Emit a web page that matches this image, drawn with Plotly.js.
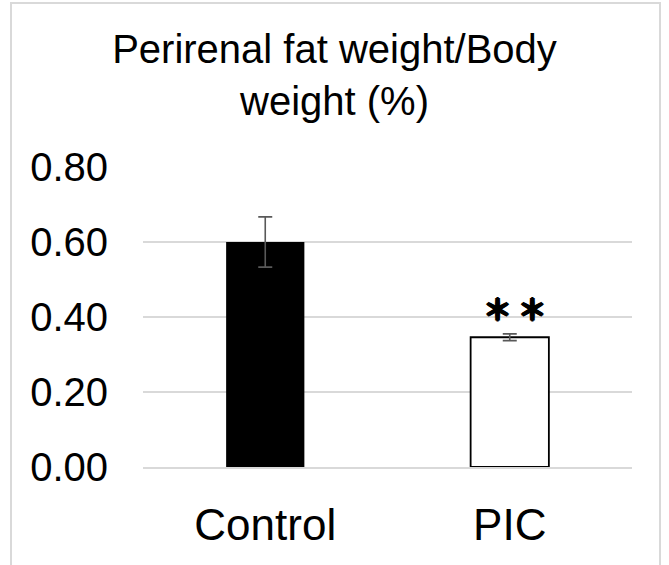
<!DOCTYPE html>
<html>
<head>
<meta charset="utf-8">
<script src="https://cdn.plot.ly/plotly-3.0.1.min.js"></script>
<style>
  html, body { margin: 0; padding: 0; background: #ffffff; }
  #wrap { position: relative; width: 669px; height: 565px; overflow: hidden; }
  #chart { position: absolute; left: 0; top: 0; width: 669px; height: 565px; }
  #frame { position: absolute; left: 10px; top: 2px; width: 651px; height: 700px;
           box-sizing: border-box; border: 2px solid #d9d9d9; pointer-events: none; }
</style>
</head>
<body>
<div id="wrap">
  <div id="chart"></div>
  <div id="frame"></div>
</div>
<script>
const categories = ['Control', 'PIC'];
const means = [0.60, 0.346];
const errors = [0.067, 0.009];
const barColors = ['#000000', '#ffffff'];
const barLineWidths = [0, 1.8];
const yTickVals = [0, 0.2, 0.4, 0.6, 0.8];
const yTickText = ['0.00', '0.20', '0.40', '0.60', '0.80'];
const sigLabel = '＊\u2009＊';

const trace = {
  type: 'bar',
  x: categories,
  y: means,
  marker: { color: barColors, line: { color: '#000000', width: barLineWidths } },
  error_y: { type: 'data', array: errors, visible: true, color: '#595959', thickness: 1.6, width: 7 },
  hoverinfo: 'none'
};

const layout = {
  width: 669,
  height: 565,
  margin: { l: 143, r: 37, t: 167, b: 98 },
  paper_bgcolor: '#ffffff',
  plot_bgcolor: '#ffffff',
  showlegend: false,
  bargap: 0.68,
  title: {
    text: 'Perirenal fat weight/Body<br>weight (%)',
    font: { family: 'Liberation Sans, Arial, sans-serif', size: 40, color: '#000000' },
    x: 0.5, xref: 'container', xanchor: 'center',
    y: 1 - 63 / 565, yref: 'container', yanchor: 'top'
  },
  xaxis: {
    type: 'category',
    showgrid: false,
    showline: true,
    linecolor: '#d9d9d9',
    linewidth: 1.5,
    ticks: '',
    ticklabelstandoff: 19,
    tickfont: { family: 'Liberation Sans, Arial, sans-serif', size: 44, color: '#000000' }
  },
  yaxis: {
    range: [0, 0.8],
    tickvals: yTickVals,
    ticktext: yTickText,
    showgrid: true,
    gridcolor: '#d9d9d9',
    gridwidth: 1.5,
    zeroline: false,
    showline: false,
    ticks: '',
    ticklabelstandoff: 34,
    tickfont: { family: 'Liberation Sans, Arial, sans-serif', size: 40, color: '#000000' }
  },
  annotations: [{
    x: categories[1],
    y: means[1] + errors[1] + 0.06,
    xref: 'x', yref: 'y',
    xshift: 5,
    yshift: 3,
    text: sigLabel,
    showarrow: false,
    xanchor: 'center', yanchor: 'middle',
    font: {
      family: 'Noto Sans CJK JP, sans-serif', size: 29, weight: 'bold', color: '#000000',
      shadow: '1.2px 0 0 #000, -1.2px 0 0 #000, 0 1.2px 0 #000, 0 -1.2px 0 #000'
    }
  }]
};

Plotly.newPlot('chart', [trace], layout, { displayModeBar: false, staticPlot: true });
</script>
</body>
</html>
